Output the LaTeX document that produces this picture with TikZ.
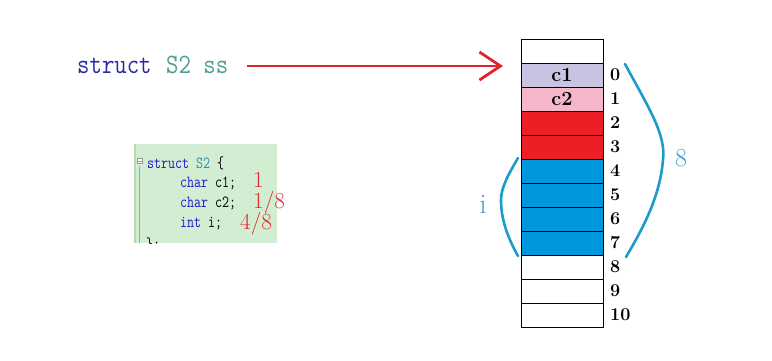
\documentclass[tikz,border=0pt]{standalone}
\usepackage{fontspec}
\usepackage{graphicx}
\usetikzlibrary{arrows.meta,positioning}
\definecolor{kwblue}{HTML}{2A2AA6}
\definecolor{tealtxt}{HTML}{4E9E94}
\definecolor{arrred}{HTML}{E0242E}
\definecolor{codebg}{HTML}{D3EDD3}
\definecolor{codeline}{HTML}{B8D8B8}
\definecolor{codekw}{HTML}{1A1AD0}
\definecolor{codetype}{HTML}{2B91AF}
\definecolor{annred}{HTML}{E02A2A}
\definecolor{cellc1}{HTML}{C9C2E2}
\definecolor{cellc2}{HTML}{F7B7CB}
\definecolor{cellred}{HTML}{EE1E26}
\definecolor{cellblue}{HTML}{0097DD}
\definecolor{brblue}{HTML}{1E9CC9}
\definecolor{lblblue}{HTML}{3AA2C9}
\newcommand{\codeln}[1]{\scalebox{0.8}[1]{#1}}
\newcommand{\declln}[1]{\scalebox{0.86}[1]{#1}}
\tikzset{
  cellbox/.style={draw=black, line width=1pt, minimum width=82pt, minimum height=24pt, inner sep=0pt, outer sep=0pt},
  idx/.style={anchor=west, inner sep=0pt, font=\fontsize{18}{18}\selectfont\bfseries},
  codetxt/.style={anchor=base west, inner sep=0pt, font=\ttfamily\fontsize{17}{17}\selectfont},
  ann/.style={anchor=base west, inner sep=0pt, text=annred, font=\fontsize{23}{23}\selectfont},
  brace/.style={draw=brblue, line width=2.6pt, line cap=round},
  bigtxt/.style={inner sep=0pt, font=\ttfamily\fontsize{28}{28}\selectfont}
}
\begin{document}
\begin{tikzpicture}[x=1pt,y=-1pt]
\useasboundingbox (0,0) rectangle (772,360);
\fill[white] (0,0) rectangle (772,360);

% declaration line
\node[bigtxt, anchor=base west, text=kwblue] (kw) at (77,73) {\declln{struct}};
\node[bigtxt, anchor=base west, text=tealtxt] (nm) at (166,73) {\declln{S2 ss}};
\coordinate (astart) at (247,66);
\coordinate (aend) at (503,66);
\draw[arrred, line width=2.8pt, -{Straight Barb[length=21pt,width=28pt,line width=2.8pt]}] (astart) -- (aend);

% code box
\node[fill=codebg, inner sep=0pt, minimum width=142pt, minimum height=99pt, anchor=north west] (code) at (135,144) {};
\draw[codeline, line width=2pt] (code.north west) -- (code.south west);
\draw[gray!70, line width=0.6pt] (139.5,166) -- (139.5,243);
\node[draw=gray!80, fill=white, line width=0.5pt, minimum size=5pt, inner sep=0pt] (fold) at (140,161) {};
\draw[gray!80, line width=0.5pt] (138.3,161) -- (141.7,161);
\node[codetxt] (l1) at (147,168) {\codeln{\textcolor{codekw}{struct} \textcolor{codetype}{S2} \{}};
\node[codetxt] (l2) at (180,187) {\codeln{\textcolor{codekw}{char} c1;}};
\node[codetxt] (l3) at (180,207) {\codeln{\textcolor{codekw}{char} c2;}};
\node[codetxt] (l4) at (180,227) {\codeln{\textcolor{codekw}{int} i;}};
\begin{scope}
\clip (code.north west) rectangle (code.south east);
\node[codetxt] (l5) at (146,249) {\codeln{\};}};
\end{scope}
\node[ann] (a1) at (253,187) {1};
\node[ann] (a2) at (253,208) {1/8};
\node[ann] (a3) at (240,229) {4/8};

% memory cells
\node[cellbox, fill=white, anchor=north west] (cm1) at (521,39) {};
\node[cellbox, fill=cellc1, below=0pt of cm1] (c0) {\fontsize{20}{20}\selectfont\bfseries c1};
\node[cellbox, fill=cellc2, below=0pt of c0] (c1) {\fontsize{20}{20}\selectfont\bfseries c2};
\node[cellbox, fill=cellred, below=0pt of c1] (c2) {};
\node[cellbox, fill=cellred, below=0pt of c2] (c3) {};
\node[cellbox, fill=cellblue, below=0pt of c3] (c4) {};
\node[cellbox, fill=cellblue, below=0pt of c4] (c5) {};
\node[cellbox, fill=cellblue, below=0pt of c5] (c6) {};
\node[cellbox, fill=cellblue, below=0pt of c6] (c7) {};
\node[cellbox, fill=white, below=0pt of c7] (c8) {};
\node[cellbox, fill=white, below=0pt of c8] (c9) {};
\node[cellbox, fill=white, below=0pt of c9] (c10) {};

\foreach \k in {0,...,10} {
  \node[idx] (n\k) at ([xshift=7pt]c\k.east) {\k};
}

% braces
\coordinate (b8top) at (625,64);
\coordinate (b8mid) at (663,160);
\coordinate (b8bot) at (626,257);
\draw[brace] (b8top) .. controls (650,110) and (666,135) .. (b8mid)
  .. controls (660,195) and (645,225) .. (b8bot);
\node[inner sep=0pt, text=lblblue, font=\fontsize{26}{26}\selectfont] (l8) at (681,158) {8};

\coordinate (bitop) at (518,158);
\coordinate (bimid) at (501,200);
\coordinate (bibot) at (518,256);
\draw[brace] (bitop) .. controls (508,175) and (501,188) .. (bimid)
  .. controls (501,220) and (508,238) .. (bibot);
\node[inner sep=0pt, text=lblblue, font=\fontsize{28}{28}\selectfont] (li) at (483,204) {i};
\end{tikzpicture}
\end{document}
